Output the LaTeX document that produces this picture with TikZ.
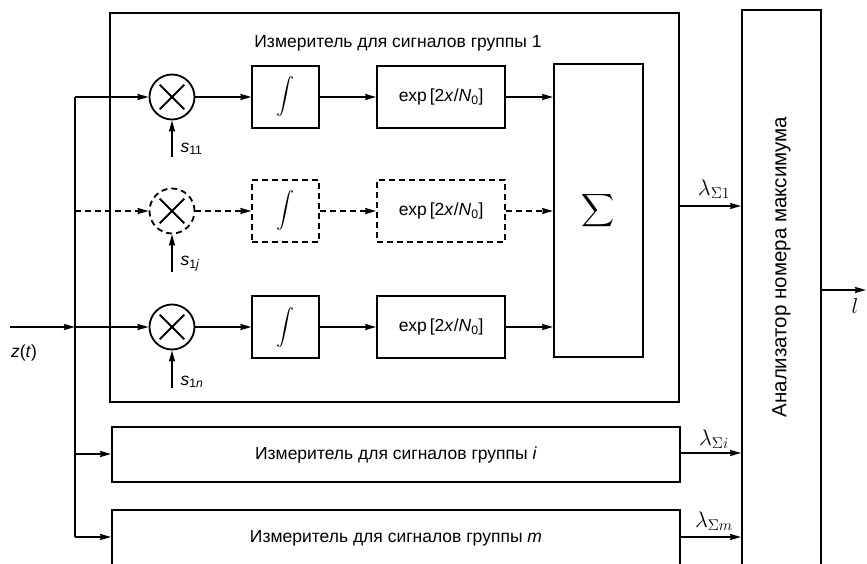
\documentclass[tikz,border=0pt]{standalone}
\usepackage{fontspec}
\setmainfont{Liberation Sans}
\usetikzlibrary{positioning}
\usetikzlibrary{arrows.meta}
\tikzset{
    wire/.style={line width=1.8pt},
    sig/.style={wire, -{Stealth[length=11pt, width=6pt, inset=1pt]}},
    dsh/.style={dash pattern=on 6pt off 4pt},
    grpbox/.style={draw, line width=1.8pt, inner sep=0pt},
    mult/.style={draw, circle, line width=1.8pt, minimum size=45pt, inner sep=0pt},
    intbox/.style={draw, line width=1.8pt, minimum width=67pt, minimum height=62pt, inner sep=0pt},
    expbox/.style={draw, line width=1.8pt, minimum width=128pt, minimum height=62pt, inner sep=0pt},
}
\newcommand{\intsign}{\scalebox{1.8}{$\displaystyle\int$}}
\newcommand{\expterm}{exp\,[2\textit{x}/\textit{N}\textsubscript{0}]}
\newcommand{\lamout}[1]{\scalebox{1.3}{$\lambda_{\Sigma #1}$}}

\begin{document}
\begin{tikzpicture}[x=1pt, y=-1pt, font=\fontsize{17.5}{20}\selectfont]
        \useasboundingbox (0,0) rectangle (867,564);
        \clip (0,0) rectangle (867,564);

        % measurer boxes and the analyser
        \node[grpbox, minimum width=569pt, minimum height=389pt] (grp1) at (394.5,207.5) {};
        \node (title1) at (398,43) {Измеритель для сигналов группы 1};
        \node[grpbox, minimum width=568pt, minimum height=55pt] (grpi) at (396,454.5) {Измеритель для сигналов группы \textit{i}};
        \node[grpbox, minimum width=568pt, minimum height=56pt] (grpm) at (396,538) {Измеритель для сигналов группы \textit{m}};
        \node[grpbox, minimum width=79pt, minimum height=556pt] (anl) at (781.5,288) {};
        \node[rotate=90, font=\fontsize{20.5}{24}\selectfont] (anltext) at (781.5,267) {Анализатор номера максимума};

        % branch 1
        \node[mult] (m1) at (172,97) {};
        \node[intbox, right=56pt of m1] (int1) {\intsign};
        \node[expbox, right=56pt of int1] (exp1) {\expterm};
        % branch j (dashed)
        \node[mult, dsh] (m2) at (172,211) {};
        \node[intbox, dsh, right=56pt of m2] (int2) {\intsign};
        \node[expbox, dsh, right=56pt of int2] (exp2) {\expterm};
        % branch n
        \node[mult] (m3) at (172,327) {};
        \node[intbox, right=56pt of m3] (int3) {\intsign};
        \node[expbox, right=56pt of int3] (exp3) {\expterm};

        \node[grpbox, minimum width=89pt, minimum height=293pt] (sum) at (598.5,210.5) {\scalebox{2.3}{$\displaystyle\sum$}};

        % crosses in the multipliers
        \draw[wire, shorten <=6pt, shorten >=6pt] (m1.45) -- (m1.225);
        \draw[wire, shorten <=6pt, shorten >=6pt] (m1.135) -- (m1.315);
        \draw[wire, shorten <=6pt, shorten >=6pt] (m2.45) -- (m2.225);
        \draw[wire, shorten <=6pt, shorten >=6pt] (m2.135) -- (m2.315);
        \draw[wire, shorten <=6pt, shorten >=6pt] (m3.45) -- (m3.225);
        \draw[wire, shorten <=6pt, shorten >=6pt] (m3.135) -- (m3.315);

        % input bus
        \coordinate (zin) at (10,327);
        \coordinate (bus1) at (75,97);
        \coordinate (bus2) at (75,211);
        \coordinate (bus3) at (75,327);
        \coordinate (busi) at (75,454);
        \coordinate (busm) at (75,537);
        \node (zlab) at (24,353) {\textit{z}(\textit{t})};
        \draw[sig] (zin) -- (bus3);
        \draw[wire] (bus1) -- (busm);
        \draw[sig] (bus1) -- (m1);
        \draw[sig, dsh] (bus2) -- (m2);
        \draw[sig] (bus3) -- (m3);
        \draw[sig] (busi) -- (busi -| grpi.west);
        \draw[sig] (busm) -- (busm -| grpm.west);

        % reference signals
        \coordinate (s11) at (172,157);
        \coordinate (s1j) at (172,272);
        \coordinate (s1n) at (172,388);
        \draw[sig] (s11) -- (m1.south);
        \draw[sig] (s1j) -- (m2.south);
        \draw[sig] (s1n) -- (m3.south);
        \node[anchor=west] (s11lab) at (177,149) {\textit{s}\textsubscript{11}};
        \node[anchor=west] (s1jlab) at (177,264) {\textit{s}\textsubscript{1\textit{j}}};
        \node[anchor=west] (s1nlab) at (177,382) {\textit{s}\textsubscript{1\textit{n}}};

        % chains
        \draw[sig] (m1) -- (int1);
        \draw[sig] (int1) -- (exp1);
        \draw[sig] (exp1) -- (exp1 -| sum.west);
        \draw[sig, dsh] (m2) -- (int2);
        \draw[sig, dsh] (int2) -- (exp2);
        \draw[sig, dsh] (exp2) -- (exp2 -| sum.west);
        \draw[sig] (m3) -- (int3);
        \draw[sig] (int3) -- (exp3);
        \draw[sig] (exp3) -- (exp3 -| sum.west);

        % outputs
        \coordinate (l1) at (679,206);
        \coordinate (li) at (680,453);
        \coordinate (lm) at (680,537);
        \draw[sig] (l1) -- (l1 -| anl.west);
        \draw[sig] (li) -- (li -| anl.west);
        \draw[sig] (lm) -- (lm -| anl.west);
        \node (lam1) at (714,189) {\lamout{1}};
        \node (lami) at (714,439) {\lamout{i}};
        \node (lamm) at (714,521) {\lamout{m}};
        \coordinate (lout) at (866,290);
        \draw[sig] (lout -| anl.east) -- (lout);
        \node (llab) at (855,306) {\scalebox{1.25}{$l$}};
\end{tikzpicture}
\end{document}
